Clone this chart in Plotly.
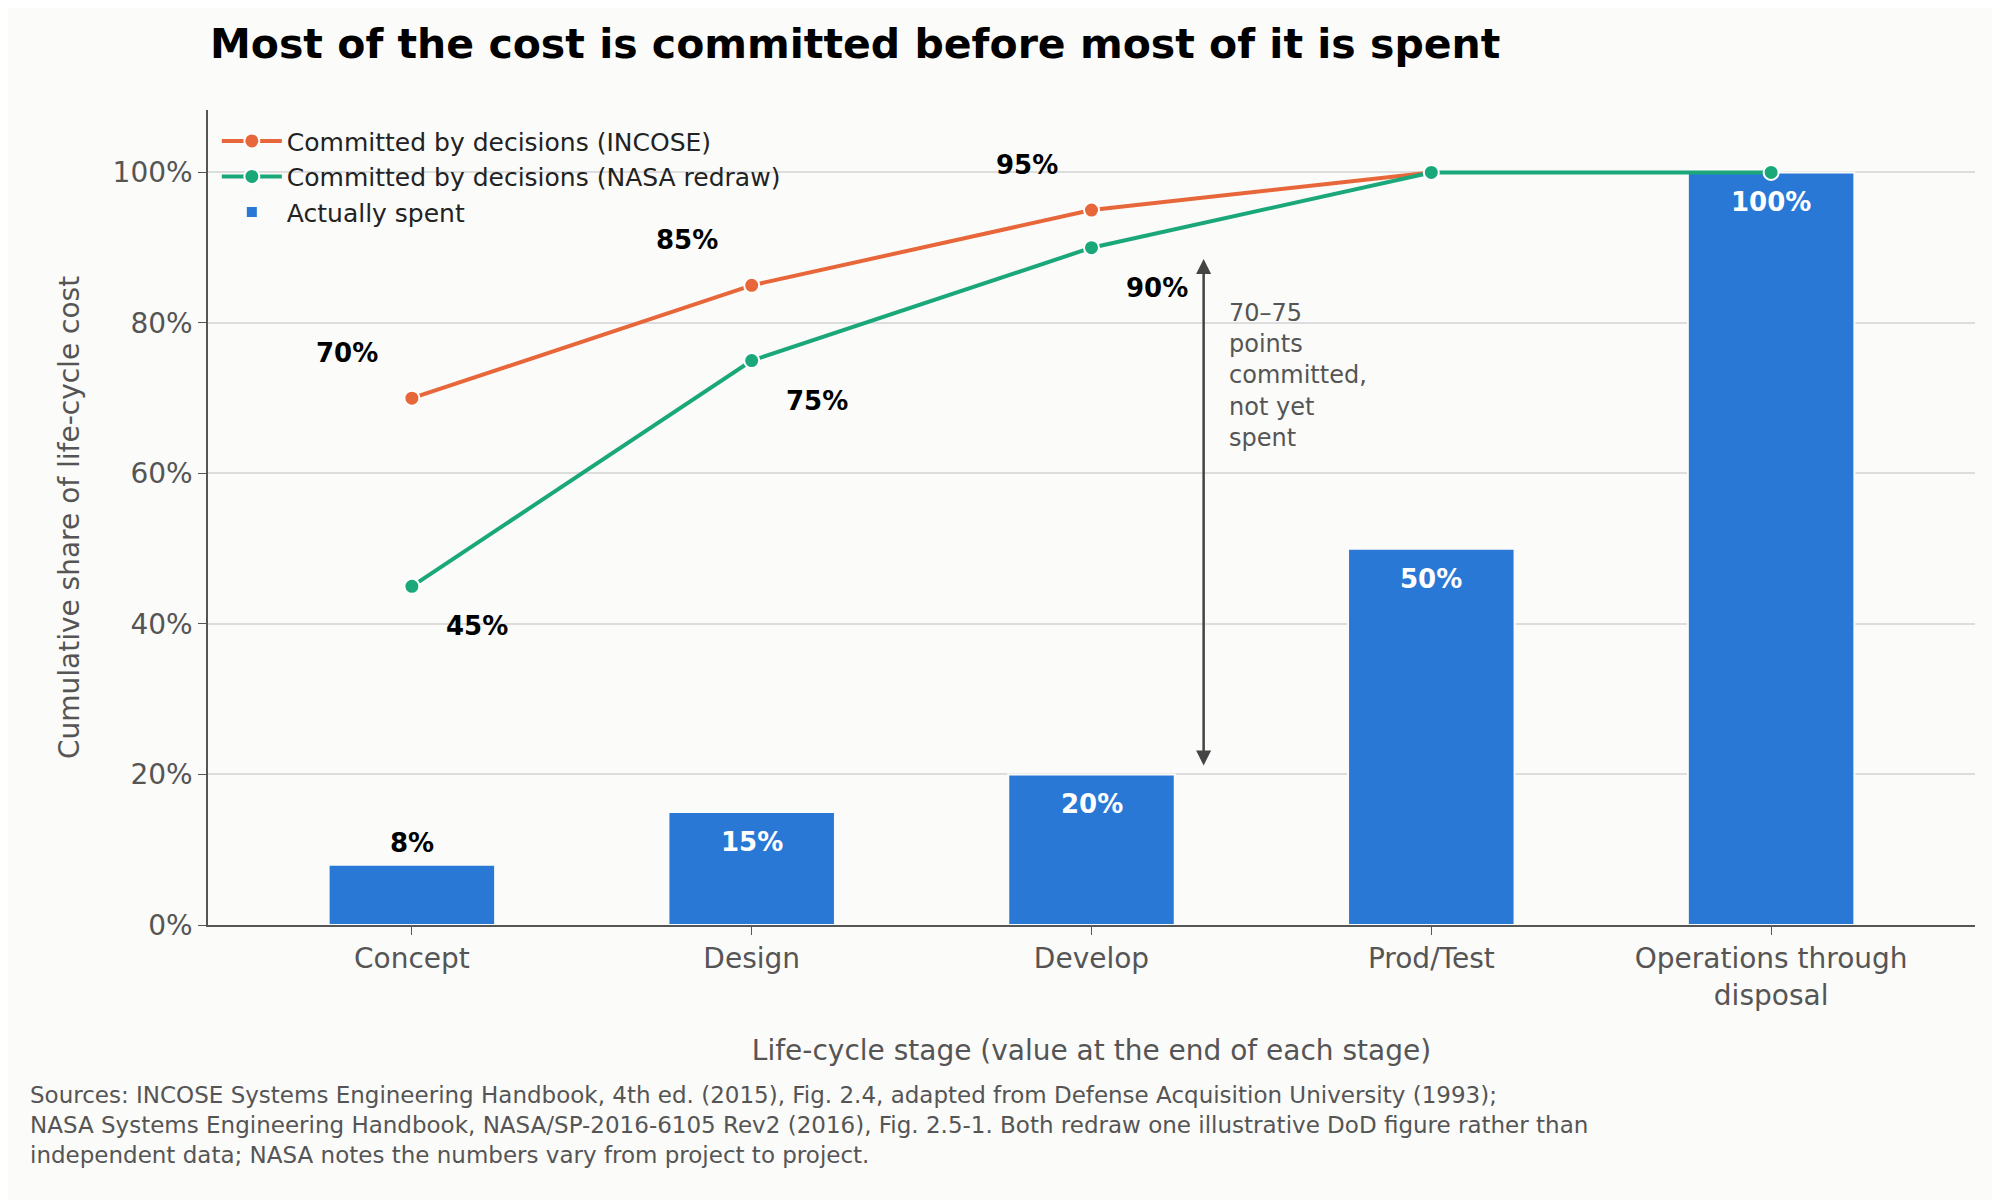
import plotly.graph_objects as go

stages = ["Concept", "Design", "Develop", "Prod/Test", "Operations through<br>disposal"]
incose = [70, 85, 95, 100, None]
nasa = [45, 75, 90, 100, 100]
spent = [8, 15, 20, 50, 100]
ytick_vals = [0, 20, 40, 60, 80, 100]
ytick_text = ["0%", "20%", "40%", "60%", "80%", "100%"]

xs = list(range(len(stages)))
orange = "#e8673a"
green = "#1aa87a"
blue = "#2a78d6"
font = "DejaVu Sans"

fig = go.Figure()
fig.add_trace(go.Bar(x=xs, y=spent, width=0.49, marker_color=blue,
                     marker_line=dict(color="#fbfbf9", width=2),
                     name="Actually spent", legendrank=3))
fig.add_trace(go.Scatter(x=xs, y=incose, mode="lines+markers", name="Committed by decisions (INCOSE)",
                         line=dict(color=orange, width=4), legendrank=1,
                         marker=dict(size=15, color=orange, line=dict(color="white", width=2))))
fig.add_trace(go.Scatter(x=xs, y=nasa, mode="lines+markers", name="Committed by decisions (NASA redraw)",
                         line=dict(color=green, width=4), legendrank=2,
                         marker=dict(size=15, color=green, line=dict(color="white", width=2))))

# bar labels
for x, v in zip(xs, spent):
    if v < 10:
        fig.add_annotation(x=x, y=v, text=f"<b>{v}%</b>", showarrow=False, yshift=22,
                           font=dict(size=26, color="black"))
    else:
        fig.add_annotation(x=x, y=v, text=f"<b>{v}%</b>", showarrow=False, yshift=-30,
                           font=dict(size=26, color="white"))

# line labels
for x, v in zip(xs[:3], incose[:3]):
    fig.add_annotation(x=x, y=v, text=f"<b>{v}%</b>", showarrow=False, xshift=-65, yshift=45,
                       font=dict(size=26, color="black"))
for x, v in zip(xs[:3], nasa[:3]):
    fig.add_annotation(x=x, y=v, text=f"<b>{v}%</b>", showarrow=False, xshift=65, yshift=-40,
                       font=dict(size=26, color="black"))

# gap arrow
fig.add_annotation(x=2.33, y=88.5, ax=2.33, ay=21, xref="x", yref="y", axref="x", ayref="y",
                   showarrow=True, arrowhead=2, arrowside="end+start", arrowsize=1.2,
                   arrowwidth=2.5, arrowcolor="#444", text="")
fig.add_annotation(x=2.4, y=83.5, text="70–75<br>points<br>committed,<br>not yet<br>spent",
                   showarrow=False, xanchor="left", yanchor="top", align="left",
                   font=dict(size=24, color="#555"))

fig.add_annotation(x=0, y=1.0, xref="paper", yref="paper", xanchor="left", yanchor="bottom",
                   text="<b>Most of the cost is committed before most of it is spent</b>",
                   showarrow=False, yshift=40, font=dict(size=41, color="black"))
fig.add_annotation(x=-0.102, y=-0.19, xref="paper", yref="paper", xanchor="left", yanchor="top",
                   align="left", showarrow=False,
                   text="Sources: INCOSE Systems Engineering Handbook, 4th ed. (2015), Fig. 2.4, adapted from Defense Acquisition University (1993);<br>"
                        "NASA Systems Engineering Handbook, NASA/SP-2016-6105 Rev2 (2016), Fig. 2.5-1. Both redraw one illustrative DoD figure rather than<br>"
                        "independent data; NASA notes the numbers vary from project to project.",
                   font=dict(size=23, color="#555"))

fig.update_layout(
    width=2000, height=1200,
    paper_bgcolor="#fbfbf9", plot_bgcolor="#fbfbf9",
    font=dict(family=font, color="#555", size=22),
    margin=dict(l=200, r=33, t=102, b=283),
    showlegend=True,
    legend=dict(x=0.005, y=0.99, xanchor="left", yanchor="top", bgcolor="rgba(0,0,0,0)",
                font=dict(size=25, color="#222"), itemwidth=60),
    xaxis=dict(tickvals=xs, ticktext=stages, range=[-0.6, 4.6], showgrid=False,
               showline=True, linecolor="#555", linewidth=1.5, ticks="outside", ticklen=8,
               tickcolor="#555", tickfont=dict(size=28),
               title=dict(text="Life-cycle stage (value at the end of each stage)", font=dict(size=28), standoff=30)),
    yaxis=dict(range=[0, 108.3], tickvals=ytick_vals, ticktext=ytick_text,
               showgrid=True, gridcolor="#dddddd", gridwidth=1.5, zeroline=False,
               showline=True, linecolor="#555", linewidth=1.5, ticks="outside", ticklen=8,
               tickcolor="#555", tickfont=dict(size=28),
               title=dict(text="Cumulative share of life-cycle cost", font=dict(size=28), standoff=25)),
)

fig.write_html("out.html")
